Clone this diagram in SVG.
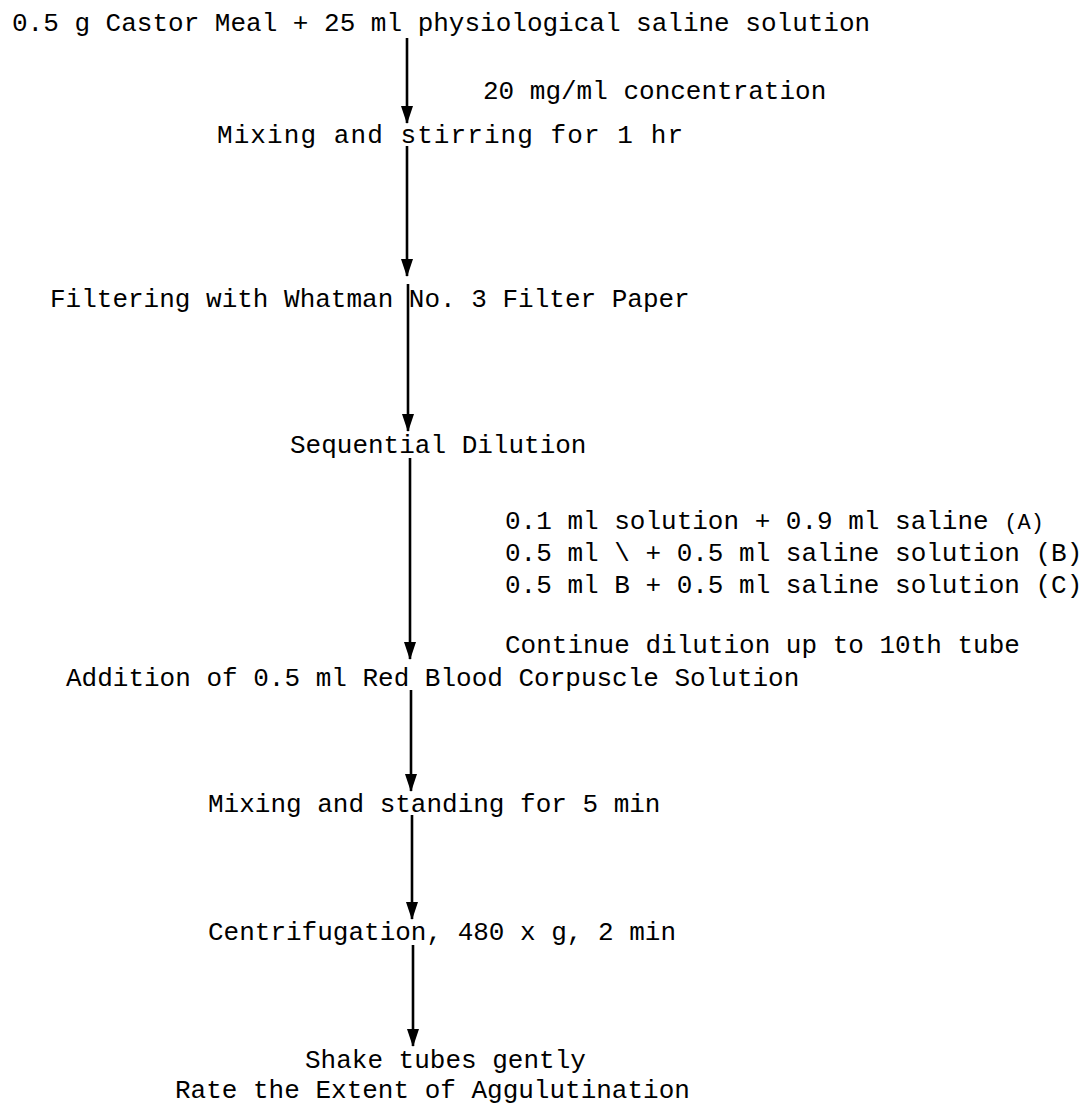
<svg xmlns="http://www.w3.org/2000/svg" width="1089" height="1106" viewBox="0 0 1089 1106">
<style>
text{font-family:"Liberation Mono","Courier New",monospace;font-size:26px;fill:#000}
.small{font-size:22px}
.conn line{stroke:#000;stroke-width:2.6}
</style>
<defs>
<marker id="ah" viewBox="0 0 18 12" refX="17" refY="6" markerWidth="18" markerHeight="12" markerUnits="userSpaceOnUse" orient="auto">
<path d="M0,0 L18,6 L0,12 z" fill="#000"/>
</marker>
</defs>
<rect width="1089" height="1106" fill="#fff"/>
<g class="conn" id="connectors">
<line x1="407" y1="38" x2="407" y2="123" marker-end="url(#ah)"/>
<line x1="407" y1="146" x2="407" y2="276" marker-end="url(#ah)"/>
<line x1="408" y1="284" x2="408" y2="431" marker-end="url(#ah)"/>
<line x1="410" y1="458" x2="410" y2="659" marker-end="url(#ah)"/>
<line x1="411" y1="690" x2="411" y2="791" marker-end="url(#ah)"/>
<line x1="412" y1="815" x2="412" y2="919" marker-end="url(#ah)"/>
<line x1="413" y1="945" x2="413" y2="1046" marker-end="url(#ah)"/>
</g>
<g id="n1"><text x="12" y="31">0.5 g Castor Meal + 25 ml physiological saline solution</text></g>
<g id="n1label"><text x="483" y="99">20 mg/ml concentration</text></g>
<g id="n2"><text x="217" y="143" textLength="466" lengthAdjust="spacing">Mixing and stirring for 1 hr</text></g>
<g id="n3"><text x="50" y="307">Filtering with Whatman No. 3 Filter Paper</text></g>
<g id="n4"><text x="290" y="453">Sequential Dilution</text></g>
<g id="n4label">
<text x="505" y="529">0.1 ml solution + 0.9 ml saline <tspan class="small">(A)</tspan></text>
<text x="505" y="561">0.5 ml \ + 0.5 ml saline solution (B)</text>
<text x="505" y="593">0.5 ml B + 0.5 ml saline solution (C)</text>
<text x="505" y="653">Continue dilution up to 10th tube</text>
</g>
<g id="n5"><text x="66" y="686">Addition of 0.5 ml Red Blood Corpuscle Solution</text></g>
<g id="n6"><text x="208" y="812">Mixing and standing for 5 min</text></g>
<g id="n7"><text x="208" y="940">Centrifugation, 480 x g, 2 min</text></g>
<g id="n8">
<text x="305" y="1068">Shake tubes gently</text>
<text x="175" y="1098">Rate the Extent of Aggulutination</text>
</g>
</svg>
